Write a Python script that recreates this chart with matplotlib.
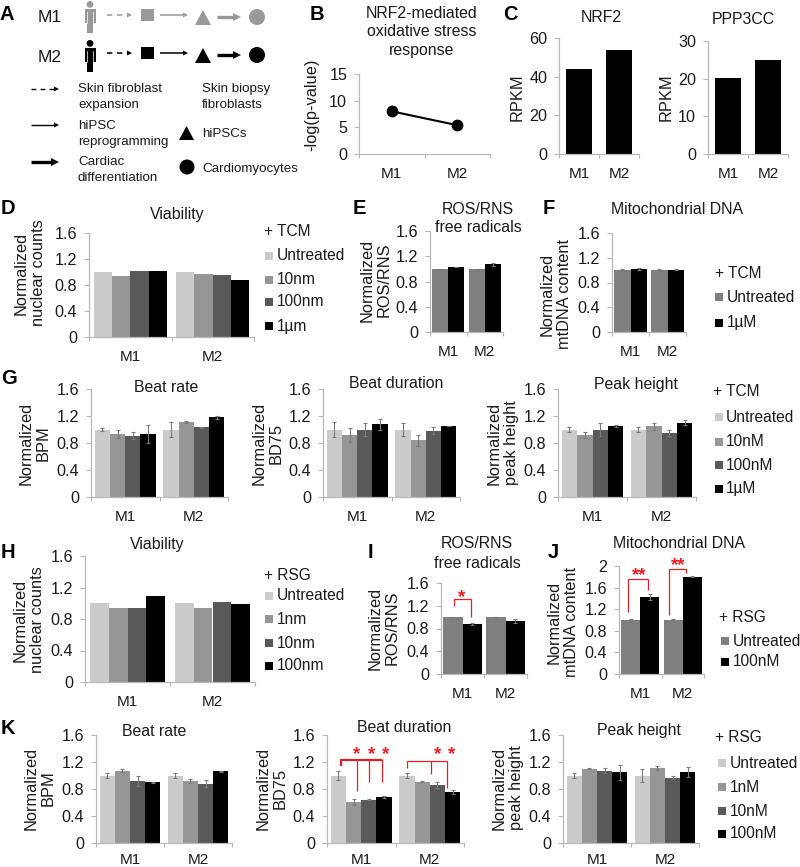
import matplotlib
matplotlib.use("Agg")
import matplotlib.pyplot as plt
import numpy as np
from matplotlib.patches import Rectangle, Circle, Polygon

plt.rcParams['font.family'] = ['Liberation Sans', 'DejaVu Sans']
W, H = 800, 867
TXT = '#1a1a1a'
AXC = '#b8b8b8'
ERR = '#7a7a7a'
C4 = ['#cbcbcb', '#969696', '#595959', '#000000']
C2 = ['#7f7f7f', '#000000']
GROUPS = ['M1', 'M2']

# Values: each row is one treatment, columns are M1, M2
nrf2_path = [8.0, 5.4]
nrf2_rpkm = [44, 54]
ppp3cc_rpkm = [20.2, 25]

d_val = [[1.0, 1.0], [0.94, 0.97], [1.01, 0.95], [1.01, 0.88]]
e_val = [[1.0, 1.0], [1.03, 1.07]]
e_err = [[0.005, 0.005], [0.005, 0.03]]
f_val = [[1.0, 1.0], [1.02, 1.01]]
f_err = [[0.015, 0.015], [0.02, 0.01]]
g1_val = [[1.0, 1.0], [0.93, 1.11], [0.91, 1.03], [0.93, 1.18]]
g1_err = [[0.02, 0.11], [0.06, 0.02], [0.05, 0.005], [0.13, 0.02]]
g2_val = [[1.0, 1.0], [0.92, 0.84], [1.0, 0.98], [1.08, 1.05]]
g2_err = [[0.11, 0.09], [0.10, 0.08], [0.10, 0.05], [0.08, 0.005]]
g3_val = [[1.0, 1.0], [0.92, 1.05], [1.0, 0.95], [1.05, 1.10]]
g3_err = [[0.03, 0.03], [0.04, 0.05], [0.09, 0.05], [0.01, 0.04]]
h_val = [[1.0, 1.0], [0.94, 0.94], [0.94, 1.02], [1.09, 0.99]]
i_val = [[1.0, 1.0], [0.88, 0.93]]
i_err = [[0.005, 0.005], [0.015, 0.03]]
j_val = [[1.0, 1.0], [1.43, 1.80]]
j_err = [[0.02, 0.02], [0.06, 0.01]]
k1_val = [[1.0, 1.0], [1.07, 0.92], [0.92, 0.88], [0.90, 1.06]]
k1_err = [[0.03, 0.04], [0.02, 0.03], [0.08, 0.05], [0.005, 0.005]]
k2_val = [[1.0, 1.0], [0.61, 0.91], [0.64, 0.86], [0.68, 0.75]]
k2_err = [[0.07, 0.03], [0.04, 0.01], [0.01, 0.04], [0.01, 0.03]]
k3_val = [[1.0, 1.0], [1.10, 1.11], [1.07, 0.97], [1.05, 1.05]]
k3_err = [[0.03, 0.10], [0.01, 0.03], [0.04, 0.02], [0.11, 0.07]]

ticks_norm = [0, 0.4, 0.8, 1.2, 1.6]
ticks_norm_lab = ['0', '0.4', '0.8', '1.2', '1.6']
ticks_j = [0, 0.4, 0.8, 1.2, 1.6, 2]
ticks_j_lab = ['0', '0.4', '0.8', '1.2', '1.6', '2']

fig = plt.figure(figsize=(W / 100, H / 100), dpi=100, facecolor='white')


def make_axes(left, right, top, bottom, ymax, yticks, ylabs, xpad=9.5):
    ax = fig.add_axes([left / W, 1 - bottom / H, (right - left) / W, (bottom - top) / H])
    ax.patch.set_alpha(0)
    ax.set_xlim(-0.5, 1.5)
    ax.set_ylim(0, ymax)
    for s in ['top', 'right']:
        ax.spines[s].set_visible(False)
    for s in ['left', 'bottom']:
        ax.spines[s].set_color(AXC)
        ax.spines[s].set_linewidth(0.9)
    ax.set_yticks(yticks)
    ax.set_yticklabels(ylabs, fontsize=11.6, color=TXT)
    ax.tick_params(axis='y', length=3.5, width=0.8, color=AXC, pad=5)
    ax.set_xticks([-0.5, 0.5, 1.5])
    ax.set_xticklabels([])
    ax.set_xticks([0, 1], minor=True)
    ax.set_xticklabels(GROUPS, minor=True, fontsize=11, color=TXT)
    ax.tick_params(axis='x', which='major', length=3, width=0.8, color=AXC)
    ax.tick_params(axis='x', which='minor', length=0, pad=xpad)
    return ax


def bars(box, vals, errs=None, colors=C4, ymax=1.6, yticks=ticks_norm, ylabs=ticks_norm_lab, xpad=9.5):
    ax = make_axes(*box, ymax, yticks, ylabs, xpad)
    n = len(vals)
    w = 0.89 / n
    x = np.arange(2)
    for i, v in enumerate(vals):
        pos = x - 0.445 + w * (i + 0.5)
        ax.bar(pos, v, width=w, color=colors[i], linewidth=0)
        if errs is not None:
            ax.errorbar(pos, v, yerr=errs[i], fmt='none', ecolor=ERR, elinewidth=0.8,
                        capsize=1.6, capthick=0.8)
    return ax


# Top row
ax = make_axes(359, 490, 74, 154, 15, [0, 5, 10, 15], ['0', '5', '10', '15'])
ax.plot([0, 1], nrf2_path, color='black', lw=1.5, marker='o', ms=7.5)
for box, vals, ym, tk in [((559, 639, 38, 154), nrf2_rpkm, 60, [0, 20, 40, 60]),
                          ((708, 788, 41, 154), ppp3cc_rpkm, 30, [0, 10, 20, 30])]:
    ax = make_axes(*box, ym, tk, [str(t) for t in tk])
    ax.bar([0, 1], vals, width=0.66, color='black', linewidth=0)

# Bar panels
bars((89, 254, 233, 337), d_val)
bars((430, 503, 231, 332), e_val, e_err, C2)
bars((612, 686, 233, 332), f_val, f_err, C2)
bars((91, 228, 389, 497), g1_val, g1_err)
bars((323, 460, 389, 497), g2_val, g2_err)
bars((558, 696, 389, 497), g3_val, g3_err)
bars((85, 255, 556, 682), h_val)
bars((441, 527, 583, 674), i_val, i_err, C2)
bars((619, 704, 566, 674), j_val, j_err, C2, 2, ticks_j, ticks_j_lab)
bars((96, 232, 735, 843), k1_val, k1_err, xpad=7)
bars((327, 464, 735, 843), k2_val, k2_err, xpad=7)
bars((563, 699, 735, 843), k3_val, k3_err, xpad=7)

# Overlay in pixel coordinates for text, legends, diagram and brackets
ov = fig.add_axes([0, 0, 1, 1], zorder=20)
ov.set_xlim(0, W)
ov.set_ylim(H, 0)
ov.axis('off')
ov.patch.set_alpha(0)


def T(x, y, s, size=11, ha='left', **kw):
    kw.setdefault('color', TXT)
    ov.text(x, y, s, fontsize=size, ha=ha, va='center', **kw)


# Panel letters
letters = [('A', 0, 15), ('B', 310, 14), ('C', 503, 14), ('D', 1, 208), ('E', 353, 208), ('F', 543, 208),
           ('G', 1, 378), ('H', 1, 552), ('I', 368, 552), ('J', 548, 552), ('K', 1, 728)]
for s, x, y in letters:
    T(x, y, s, 14.5, fontweight='bold', color='black')

# Titles
titles = [('NRF2-mediated', 422, 13), ('oxidative stress', 422, 32), ('response', 422, 50),
          ('NRF2', 601, 17), ('PPP3CC', 743, 20),
          ('Viability', 177, 214), ('ROS/RNS', 478, 209), ('free radicals', 478, 227),
          ('Mitochondrial DNA', 677, 210),
          ('Beat rate', 166, 387), ('Beat duration', 396, 384), ('Peak height', 636, 384),
          ('Viability', 157, 545), ('ROS/RNS', 477, 544), ('free radicals', 477, 563),
          ('Mitochondrial DNA', 679, 544),
          ('Beat rate', 154, 731), ('Beat duration', 404, 727), ('Peak height', 639, 730)]
for s, x, y in titles:
    T(x, y, s, 11.4, ha='center')

# Y axis titles
ylabels = [('-log(p-value)', 312, 105), ('RPKM', 517, 97), ('RPKM', 666, 97),
           ('Normalized\nnuclear counts', 30, 273), ('Normalized\nROS/RNS', 376, 280),
           ('Normalized\nmtDNA content', 556, 294),
           ('Normalized\nBPM', 35, 443), ('Normalized\nBD75', 268, 443), ('Normalized\npeak height', 503, 443),
           ('Normalized\nnuclear counts', 29, 620), ('Normalized\nROS/RNS', 384, 628),
           ('Normalized\nmtDNA content', 563, 622),
           ('Normalized\nBPM', 40, 788), ('Normalized\nBD75', 272, 788), ('Normalized\npeak height', 508, 788)]
for s, x, y in ylabels:
    ov.text(x, y, s, fontsize=11.8, rotation=90, ha='center', va='center', multialignment='center',
            color=TXT, linespacing=1.15)


def legend(title, tx, ty, labels, colors, sx, tx2, ys, sq=8):
    T(tx, ty, title, 11.2)
    for lab, c, y in zip(labels, colors, ys):
        ov.add_patch(Rectangle((sx, y - sq / 2), sq, sq, facecolor=c, linewidth=0))
        T(tx2, y, lab, 11.2)


legend('+ TCM', 264, 232, ['Untreated', '10nm', '100nm', '1µm'], C4, 265, 277, [256, 280, 302, 326])
legend('+ TCM', 715, 273, ['Untreated', '1µM'], C2, 715, 727, [297, 323])
legend('+ TCM', 713, 391, ['Untreated', '10nM', '100nM', '1µM'], C4, 715, 726, [417, 442, 465, 489])
legend('+ RSG', 264, 576, ['Untreated', '1nm', '10nm', '100nm'], C4, 265, 277, [596, 619, 643, 666])
legend('+ RSG', 719, 618, ['Untreated', '100nM'], C2, 721, 733, [641, 662])
legend('+ RSG', 715, 738, ['Untreated', '1nM', '10nM', '100nM'], C4, 718, 730, [763, 787, 811, 834])


# Panel A diagram
def arrow(x0, x1, y, c, lw, hl, hw, ls='-'):
    ov.plot([x0, x1 - hl + 1], [y, y], color=c, lw=lw, ls=ls, solid_capstyle='butt')
    ov.add_patch(Polygon([(x1 - hl, y - hw), (x1, y), (x1 - hl, y + hw)], facecolor=c, linewidth=0))


def person(cx, top, bot, c):
    head = 3.4
    ov.add_patch(Circle((cx, top + head), head, facecolor=c, linewidth=0))
    t = top + 2 * head + 1
    ov.add_patch(Rectangle((cx - 5.5, t), 11, (bot - t) * 0.58, facecolor=c, linewidth=0))
    ov.add_patch(Rectangle((cx - 3, t), 6, bot - t, facecolor=c, linewidth=0))
    for dx in (-3.2, 3.2):
        ov.plot([cx + dx, cx + dx], [t + 3, t + (bot - t) * 0.58], color='white', lw=0.5)


for col, py0, py1, ay, sq0, sq1, tr0, tr1, cy in [('#999999', 1, 33, 15, 9, 21, 10, 25, 17),
                                                  ('#000000', 40, 72, 53, 47, 59, 48, 63, 55)]:
    person(90, py0, py1, col)
    arrow(107, 132, ay, col, 1.1, 5, 2.5, ls=(0, (3.5, 3)))
    ov.add_patch(Rectangle((141, sq0), 13, sq1 - sq0, facecolor=col, linewidth=0))
    arrow(160, 188, ay, col, 1.1, 5, 2.5)
    ov.add_patch(Polygon([(195, tr1), (203, tr0), (211, tr1)], facecolor=col, linewidth=0))
    arrow(217, 241, ay + 2, col, 2.4, 8, 4)
    ov.add_patch(Circle((257, cy), 8, facecolor=col, linewidth=0))
T(38, 18, 'M1', 12.5)
T(38, 57, 'M2', 12.5)

arrow(31, 59, 89, 'black', 1.0, 5, 2.5, ls=(0, (3.5, 3)))
arrow(31, 59, 125, 'black', 1.0, 5, 2.5)
arrow(31, 59, 162, 'black', 2.4, 8, 4)
diagram_text = [('Skin fibroblast', 78, 89), ('expansion', 78, 105), ('hiPSC', 78, 126), ('reprogramming', 78, 142),
                ('Cardiac', 78, 162), ('differentiation', 78, 178), ('Skin biopsy', 202, 89), ('fibroblasts', 202, 105),
                ('hiPSCs', 202, 134), ('Cardiomyocytes', 202, 169)]
for s, x, y in diagram_text:
    T(x, y, s, 9.6)
ov.add_patch(Polygon([(179, 140), (186.5, 126), (194, 140)], facecolor='black', linewidth=0))
ov.add_patch(Circle((187, 167), 7.5, facecolor='black', linewidth=0))

# Red significance brackets
RED = '#e0202a'
def red(xs, ys, lw=0.9):
    ov.plot(xs, ys, color=RED, lw=lw, solid_capstyle='butt', solid_joinstyle='miter')
def star(x, y, s='*'):
    ov.text(x, y + 3, s, color='#ee1c25', fontsize=13.5, ha='center', va='center', fontweight='bold')

red([454, 454, 471, 471], [606, 599, 599, 617]); star(462, 595)
red([628, 628, 648, 648], [612, 579, 579, 590]); star(639, 573, '**')
red([669, 669, 686, 686], [615, 569, 569, 573]); star(678, 563, '**')
red([341, 382], [759.5, 759.5], 1.6); red([341, 341], [759, 766], 1.6)
red([357, 357], [759, 791]); red([369, 369], [759, 782]); red([382, 382], [759, 782])
for x in [357, 372, 386]:
    star(x, 752)
red([407, 407, 447, 447], [768, 761, 761, 788]); red([431, 431], [761, 774])
for x in [438, 452]:
    star(x, 752)

fig.savefig('out.png', dpi=100)
